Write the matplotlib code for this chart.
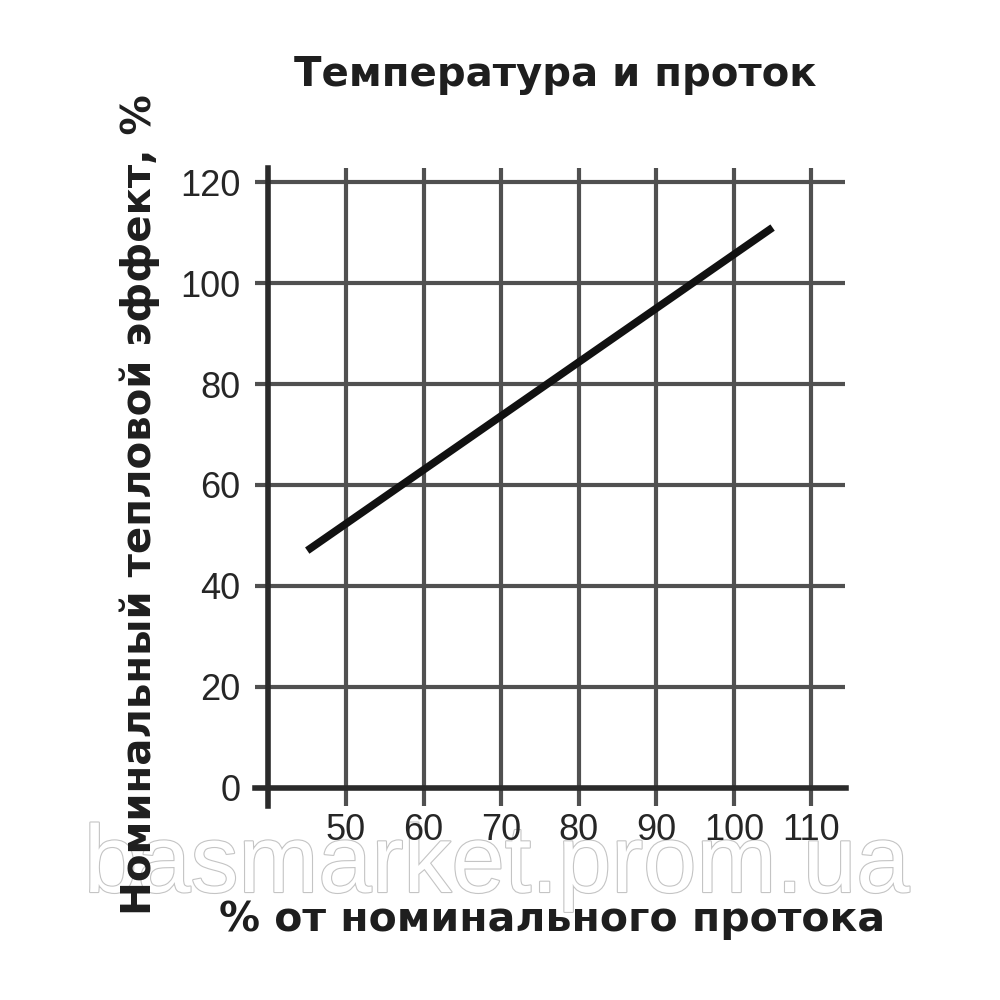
import matplotlib
matplotlib.use("Agg")
import matplotlib.pyplot as plt
import matplotlib.patheffects as pe

flow = [45, 105]
heat = [47, 111]
x_ticks = [40, 50, 60, 70, 80, 90, 100, 110]
x_labels = ["", "50", "60", "70", "80", "90", "100", "110"]
y_ticks = [0, 20, 40, 60, 80, 100, 120]
y_labels = ["0", "20", "40", "60", "80", "100", "120"]

plt.rcParams["font.family"] = ["Liberation Sans", "DejaVu Sans"]
bold = dict(family=["DejaVu Sans"], fontweight="bold", color="#1e1e1e")

fig = plt.figure(figsize=(10, 10), dpi=100)
ax = fig.add_axes([0.2545, 0.194, 0.591, 0.638])
ax.patch.set_visible(False)

ax.plot(flow, heat, color="#111111", lw=5.5, solid_capstyle="butt", zorder=3)

ax.set_xlim(38.2, 114.4)
ax.set_ylim(-3.6, 122.8)
ax.set_xticks(x_ticks)
ax.set_xticklabels(x_labels)
ax.set_yticks(y_ticks)
ax.set_yticklabels(y_labels)
ax.grid(True, color="#505050", lw=3, zorder=1)
ax.set_axisbelow(True)

for side in ["top", "right"]:
    ax.spines[side].set_visible(False)
ax.spines["left"].set_position(("data", 40))
ax.spines["bottom"].set_position(("data", 0))
for side in ["left", "bottom"]:
    ax.spines[side].set_linewidth(4)
    ax.spines[side].set_color("#2a2a2a")
    ax.spines[side].set_zorder(2)

ax.tick_params(length=0, labelsize=26, colors="#262626")
ax.tick_params(axis="y", pad=20)
ax.tick_params(axis="x", pad=18)

fig.text(0.555, 0.925, "Температура и проток", ha="center", va="center",
         fontsize=29, **bold)
fig.text(0.14, 0.495, "Номинальный тепловой эффект, %", ha="center", va="center",
         rotation=90, fontsize=29, **bold)
fig.text(0.552, 0.08, "% от номинального протока", ha="center", va="center",
         fontsize=29.5, **bold)

wm = fig.text(0.497, 0.108, "basmarket.prom.ua", ha="center", va="baseline",
              fontsize=69, color="white", zorder=-1)
wm.set_path_effects([pe.withStroke(linewidth=1.6, foreground="#c4c4c4")])

fig.savefig("out.png", dpi=100, facecolor="white")
